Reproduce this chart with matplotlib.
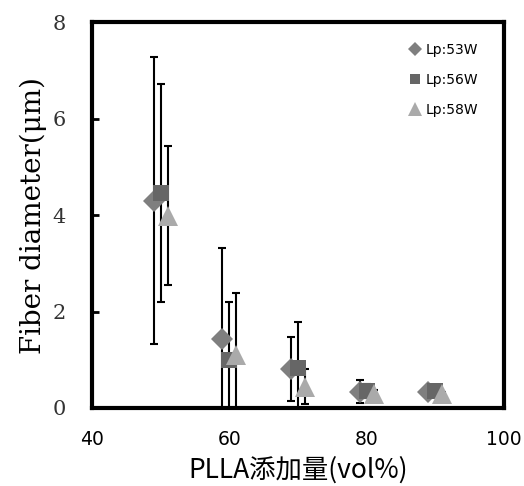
import numpy as np
import matplotlib.pyplot as plt

#data
pos = np.array([50, 60, 70, 80, 90])
labels = ['Lp:53W', 'Lp:56W', 'Lp:58W']
offsets = [-1, 0, 1]
diam_53 = [4.3, 1.42, 0.81, 0.34, 0.33]
err_53 = [2.97, 1.9, 0.67, 0.23, 0.1]
diam_56 = [4.45, 1.0, 0.82, 0.35, 0.35]
err_56 = [2.26, 1.19, 0.96, 0.15, 0.11]
diam_58 = [3.98, 1.1, 0.44, 0.3, 0.28]
err_58 = [1.44, 1.29, 0.36, 0.08, 0.06]

#marker styles
markers = ['D', 's', '^']
sizes = [11, 11, 15]
colors = ['#7f7f7f', '#666666', '#aaaaaa']

fig = plt.figure(figsize=(5.24, 4.86), dpi=100)
ax = fig.add_axes([0.1756, 0.1605, 0.7862, 0.7942])

series = [(diam_53, err_53), (diam_56, err_56), (diam_58, err_58)]
for i, (d, e) in enumerate(series):
    ax.errorbar(pos + offsets[i], d, yerr=e, fmt='none', ecolor='black',
                elinewidth=1.5, capsize=3, capthick=1.5, zorder=2)
for i, (d, e) in enumerate(series):
    ax.plot(pos + offsets[i], d, linestyle='none', marker=markers[i],
            markersize=sizes[i], color=colors[i], markeredgewidth=0,
            label=labels[i], zorder=3)

ax.set_xlim(40, 100)
ax.set_ylim(0, 8)
ax.set_xticks([40, 60, 80, 100])
ax.set_yticks([0, 2, 4, 6, 8])
for s in ax.spines.values():
    s.set_linewidth(3)
ax.tick_params(axis='y', direction='in', length=5, width=2, pad=19)
ax.tick_params(axis='x', direction='in', length=0, pad=16)
for t in ax.get_yticklabels():
    t.set_fontfamily('DejaVu Serif')
    t.set_fontsize(15)
    t.set_color('#333333')
for t in ax.get_xticklabels():
    t.set_fontfamily('DejaVu Sans')
    t.set_fontsize(13.5)

ax.set_ylabel('Fiber diameter(μm)', fontfamily='DejaVu Serif', fontsize=20, labelpad=4)
ax.set_xlabel('PLLA添加量(vol%)', fontfamily=['Noto Sans CJK JP', 'DejaVu Sans'],
              fontsize=19, labelpad=5)

leg = ax.legend(loc='upper right', bbox_to_anchor=(0.95, 0.96), frameon=False,
                fontsize=10, markerscale=0.65, handlelength=0.8, handletextpad=0.3,
                labelspacing=1.15, borderaxespad=0)

fig.savefig('out.png', dpi=100)
